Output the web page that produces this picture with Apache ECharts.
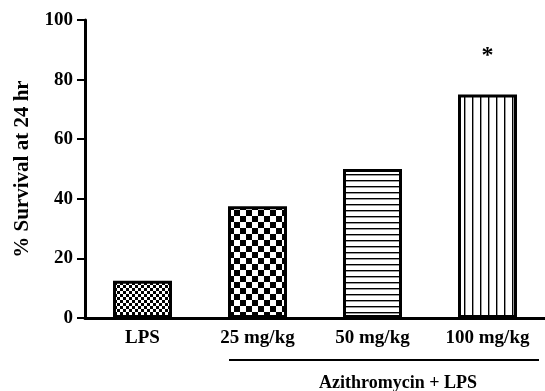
<!DOCTYPE html>
<html>
<head>
<meta charset="utf-8">
<script src="https://cdn.jsdelivr.net/npm/echarts@6/dist/echarts.min.js"></script>
<style>html,body{margin:0;padding:0;background:#fff;}#c{width:545px;height:391px;}</style>
</head>
<body>
<div id="c"></div>
<script>
const categories = ['LPS', '25 mg/kg', '50 mg/kg', '100 mg/kg'];
const survival = [12.5, 37.5, 50, 75];
const significance = ['', '', '', '*'];
const yTicks = [0, 20, 40, 60, 80, 100];
const groupLabel = 'Azithromycin + LPS';
const yTitle = '% Survival at 24 hr';

function makeTile(w, h, draw) {
  const c = document.createElement('canvas');
  c.width = w; c.height = h;
  const g = c.getContext('2d');
  g.fillStyle = '#fff'; g.fillRect(0, 0, w, h);
  g.fillStyle = '#000';
  draw(g);
  return c;
}
const patterns = [
  makeTile(6, 6, g => { g.fillRect(0, 0, 3, 3); g.fillRect(3, 3, 3, 3); }),
  makeTile(12, 12, g => { g.fillRect(0, 0, 6, 6); g.fillRect(6, 6, 6, 6); }),
  makeTile(6, 6, g => { g.fillRect(0, 0, 6, 1.4); }),
  makeTile(8, 8, g => { g.fillRect(0, 0, 1.4, 8); })
];

const FONT = 'Liberation Serif';
const chart = echarts.init(document.getElementById('c'), null, {renderer: 'canvas'});
chart.setOption({
  animation: false,
  backgroundColor: '#fff',
  grid: {left: 85, top: 20, width: 466, bottom: 73, containLabel: false},
  xAxis: {
    type: 'category',
    data: categories,
    axisLine: {lineStyle: {color: '#000', width: 3}},
    axisTick: {alignWithLabel: true, length: 7, lineStyle: {color: '#000', width: 2}},
    axisLabel: {color: '#000', fontFamily: FONT, fontWeight: 'bold', fontSize: 19, margin: 11}
  },
  yAxis: {
    type: 'value',
    min: 0, max: 100, interval: 20,
    name: yTitle,
    nameLocation: 'middle',
    nameGap: 52,
    nameRotate: 90,
    nameTextStyle: {color: '#000', fontFamily: FONT, fontWeight: 'bold', fontSize: 21},
    splitLine: {show: false},
    axisLine: {show: true, lineStyle: {color: '#000', width: 3}},
    axisTick: {show: true, length: 8, lineStyle: {color: '#000', width: 2}},
    axisLabel: {color: '#000', fontFamily: FONT, fontWeight: 'bold', fontSize: 19, margin: 12,
      formatter: v => yTicks.includes(v) ? String(v) : ''}
  },
  series: [{
    type: 'bar',
    barWidth: 59,
    data: survival.map((v, i) => ({
      value: v,
      itemStyle: {color: {image: patterns[i], repeat: 'repeat'}, borderColor: '#000', borderWidth: 3},
      label: significance[i] ? {show: true, position: 'top', distance: 27, formatter: significance[i],
        color: '#000', fontFamily: FONT, fontWeight: 'bold', fontSize: 24} : {show: false}
    }))
  }],
  graphic: [
    {type: 'line', shape: {x1: 229, y1: 360, x2: 539, y2: 360}, style: {stroke: '#000', lineWidth: 2}},
    {type: 'text', x: 398, y: 383, style: {text: groupLabel, fill: '#000', font: 'bold 18px "Liberation Serif"', textAlign: 'center', textVerticalAlign: 'middle'}}
  ]
});
</script>
</body>
</html>
